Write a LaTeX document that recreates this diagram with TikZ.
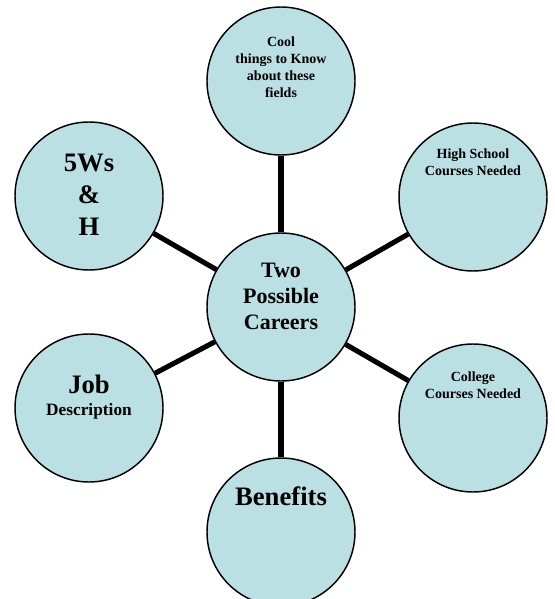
\documentclass[tikz,border=0pt]{standalone}
\usepackage{fontspec}
\setmainfont{Liberation Serif}
\definecolor{bubblefill}{RGB}{187,224,228}
\tikzset{
  bubble/.style={circle,draw=black,line width=1.1pt,fill=bubblefill,minimum size=111pt,inner sep=0pt},
  spoke/.style={line width=3.8pt},
  words/.style={align=center,font=\bfseries,inner sep=0pt}
}
\begin{document}
\begin{tikzpicture}[x=0.75pt,y=-0.75pt]
	\clip (0,0) rectangle (554,599);
	\useasboundingbox (0,0) rectangle (554,599);
	% circles
	\node[bubble] (hub) at (281,307) {};
	\node[bubble] (cool) at (281,81) {};
	\node[bubble] (school) at (473,197) {};
	\node[bubble] (college) at (473,418) {};
	\node[bubble] (benefits) at (281,532) {};
	\node[bubble] (job) at (89,408) {};
	\node[bubble] (five) at (89,196) {};
	% spokes
	\foreach \n in {cool,school,college,benefits,job,five}
	\draw[spoke] (hub) -- (\n);
	% texts
	\node[words,font=\fontsize{16.5}{19.5}\selectfont\bfseries] (hubtext) at (281,296) {Two\\Possible\\Careers};
	\node[words,font=\fontsize{10.5}{12.75}\selectfont\bfseries] (cooltext) at (281,67) {Cool\\things to Know\\about these\\fields};
	\node[words,font=\fontsize{10.5}{12.75}\selectfont\bfseries] (schooltext) at (473,162) {High School\\Courses Needed};
	\node[words,font=\fontsize{10.5}{12.75}\selectfont\bfseries] (collegetext) at (473,385) {College\\Courses Needed};
	\node[words,font=\fontsize{20}{24}\selectfont\bfseries] (benefitstext) at (281,496) {Benefits};
	\node[words,font=\fontsize{20}{24}\selectfont\bfseries] (jobtext) at (89,384) {Job};
	\node[words,font=\fontsize{13}{15}\selectfont\bfseries] (desctext) at (89,411) {Description};
	\node[words,font=\fontsize{20}{24}\selectfont\bfseries] (fivetext) at (89,195) {5Ws\\\&\\H};
\end{tikzpicture}
\end{document}
